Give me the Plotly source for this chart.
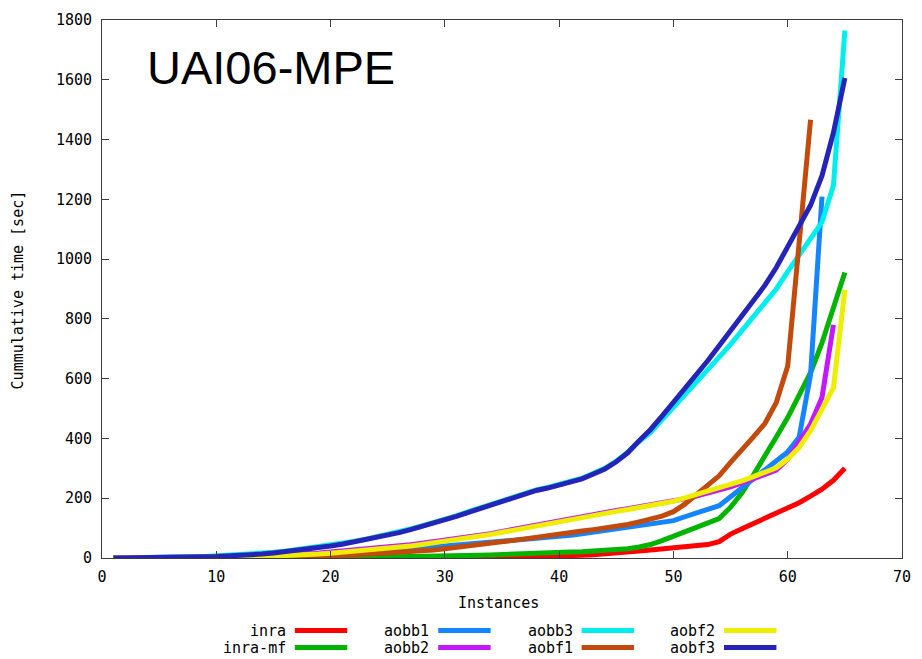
import plotly.graph_objects as go

# ---------------- data (cumulative time in seconds per solved instance) ----------------
series_names = ["inra", "inra-mf", "aobb1", "aobb2", "aobb3", "aobf1", "aobf2", "aobf3"]
series_colors = ["#ff0000", "#00b400", "#1484ff", "#c418ff", "#00eeee", "#c24a0c", "#eeee00", "#2424b8"]

inra = [0, 0, 0, 0, 0, 0, 0, 0, 0, 0,
        0, 0, 0, 0, 0, 0, 0, 0, 1, 1,
        1, 1, 1, 1, 1, 1, 2, 2, 2, 2,
        2, 3, 3, 3, 4, 4, 5, 5, 6, 7,
        8, 9, 11, 13, 16, 19, 23, 27, 30, 34,
        37, 40, 45, 55, 80, 98, 115, 133, 150, 165,
        185, 207, 230, 260, 300]

inra_mf = [0, 0, 0, 0, 0, 0, 0, 0, 0, 0,
           0, 0, 1, 1, 1, 1, 1, 2, 2, 2,
           2, 3, 3, 3, 4, 4, 5, 5, 6, 7,
           7, 8, 9, 10, 12, 13, 14, 15, 17, 18,
           20, 21, 23, 25, 27, 31, 37, 45, 58, 72,
           87, 100, 116, 132, 170, 218, 278, 338, 405, 470,
           545, 620, 720, 835, 955]

aobb1 = [0, 0, 0, 0, 0, 1, 1, 1, 2, 2,
         3, 4, 5, 6, 7, 8, 10, 11, 13, 15,
         17, 19, 21, 23, 25, 28, 31, 34, 37, 40,
         43, 46, 48, 51, 55, 58, 62, 65, 68, 71,
         76, 81, 86, 91, 96, 101, 106, 111, 116, 125,
         138, 152, 163, 175, 205, 235, 265, 295, 325, 355,
         404, 614, 1209]

aobb2 = [0, 0, 0, 0, 0, 0, 1, 2, 3, 4,
         5, 6, 7, 8, 9, 11, 13, 15, 17, 20,
         23, 26, 29, 32, 36, 40, 44, 49, 54, 59,
         64, 69, 75, 81, 89, 96, 104, 111, 119, 128,
         134, 141, 147, 153, 159, 165, 171, 177, 184, 190,
         198, 207, 216, 226, 238, 251, 264, 278, 294, 331,
         392, 448, 537, 780]

aobb3 = [0, 0, 0, 1, 1, 2, 3, 4, 5, 7,
         8, 10, 12, 15, 19, 23, 28, 32, 37, 42,
         48, 55, 62, 70, 78, 87, 97, 107, 117, 128,
         141, 154, 167, 177, 192, 203, 215, 228, 236, 245,
         256, 267, 283, 300, 324, 354, 390, 420, 462, 503,
         546, 588, 630, 672, 715, 760, 805, 852, 900, 958,
         1013, 1069, 1124, 1246, 1765]

aobf1 = [0, 0, 0, 0, 0, 0, 0, 1, 1, 1,
         1, 2, 2, 3, 3, 4, 5, 5, 6, 7,
         9, 10, 12, 14, 16, 18, 21, 24, 27, 31,
         35, 40, 45, 49, 54, 59, 64, 70, 75, 80,
         85, 90, 95, 100, 105, 112, 121, 130, 140, 155,
         180, 212, 245, 275, 320, 360, 405, 450, 520, 642,
         1050, 1466]

aobf2 = [0, 0, 0, 0, 0, 0, 0, 1, 1, 2,
         2, 3, 4, 5, 6, 8, 9, 11, 13, 16,
         19, 22, 25, 28, 32, 36, 40, 45, 50, 56,
         61, 67, 74, 79, 86, 93, 101, 109, 117, 125,
         131, 138, 144, 150, 156, 162, 168, 174, 182, 190,
         201, 212, 222, 232, 245, 258, 272, 288, 302, 331,
         370, 426, 498, 570, 897]

aobf3 = [0, 0, 0, 0, 0, 1, 2, 3, 4, 5,
         6, 8, 10, 13, 17, 21, 26, 30, 35, 40,
         46, 53, 60, 68, 76, 85, 95, 105, 115, 126,
         139, 152, 165, 175, 190, 201, 213, 226, 234, 243,
         254, 265, 281, 298, 322, 352, 392, 430, 475, 520,
         564, 610, 660, 710, 760, 810, 860, 912, 972, 1040,
         1105, 1180, 1279, 1423, 1606]

series_values = [inra, inra_mf, aobb1, aobb2, aobb3, aobf1, aobf2, aobf3]

x_ticks = [0, 10, 20, 30, 40, 50, 60, 70]
y_ticks = [0, 200, 400, 600, 800, 1000, 1200, 1400, 1600, 1800]

# legend layout: gnuplot-style, column-major, 2 rows
legend_cols = [0, 0, 1, 1, 2, 2, 3, 3]
legend_rows = [0, 1, 0, 1, 0, 1, 0, 1]

# ---------------- figure ----------------
W, H = 922, 659
ML, MR, MT, MB = 102, 11, 17, 101
PW, PH = W - ML - MR, H - MT - MB

def px_to_paper_x(px):
    return (px - ML) / PW

def py_to_paper_y(py):
    return (H - MB - py) / PH

fig = go.Figure()
for name, color, vals in zip(series_names, series_colors, series_values):
    fig.add_trace(go.Scatter(
        x=list(range(1, len(vals) + 1)), y=vals, mode="lines", name=name,
        line=dict(color=color, width=5), showlegend=False,
    ))

mono = "DejaVu Sans Mono"
fsize = 15
axis_common = dict(
    showline=True, linecolor="#3c3c3c", linewidth=1, mirror="ticks",
    ticks="inside", ticklen=7, tickcolor="#3c3c3c", tickwidth=1,
    showgrid=False, zeroline=False,
    tickfont=dict(family=mono, size=fsize, color="#000000"),
)
fig.update_layout(
    width=W, height=H,
    margin=dict(l=ML, r=MR, t=MT, b=MB),
    paper_bgcolor="white", plot_bgcolor="white",
    xaxis=dict(range=[0, 70], tickvals=x_ticks, ticktext=[str(v) for v in x_ticks],
               ticklabelstandoff=5, **axis_common),
    yaxis=dict(range=[0, 1800], tickvals=y_ticks, ticktext=[str(v) for v in y_ticks],
               ticklabelstandoff=6, **axis_common),
)

annotations = [
    dict(text="UAI06-MPE", x=px_to_paper_x(145), y=py_to_paper_y(65), xref="paper", yref="paper",
         xanchor="left", yanchor="middle", showarrow=False,
         font=dict(family="Liberation Sans", size=47, color="#000000")),
    dict(text="Instances", x=px_to_paper_x(503), y=py_to_paper_y(603), xref="paper", yref="paper",
         xanchor="center", yanchor="middle", showarrow=False,
         font=dict(family=mono, size=fsize, color="#000000")),
    dict(text="Cummulative time [sec]", x=px_to_paper_x(18), y=py_to_paper_y(288), xref="paper", yref="paper",
         xanchor="center", yanchor="middle", showarrow=False, textangle=-90,
         font=dict(family=mono, size=fsize, color="#000000")),
]
shapes = []
col_text_right = [290, 435, 580, 724]
row_y = [631, 648]
for name, color, c, r in zip(series_names, series_colors, legend_cols, legend_rows):
    tx = col_text_right[c]
    ty = row_y[r]
    annotations.append(dict(text=name, x=px_to_paper_x(tx), y=py_to_paper_y(ty), xref="paper", yref="paper",
                            xanchor="right", yanchor="middle", showarrow=False,
                            font=dict(family=mono, size=fsize, color="#000000")))
    shapes.append(dict(type="line", xref="paper", yref="paper",
                       x0=px_to_paper_x(tx + 7), x1=px_to_paper_x(tx + 60),
                       y0=py_to_paper_y(ty), y1=py_to_paper_y(ty),
                       line=dict(color=color, width=5)))
fig.update_layout(annotations=annotations, shapes=shapes)

fig.write_html("out.html")
